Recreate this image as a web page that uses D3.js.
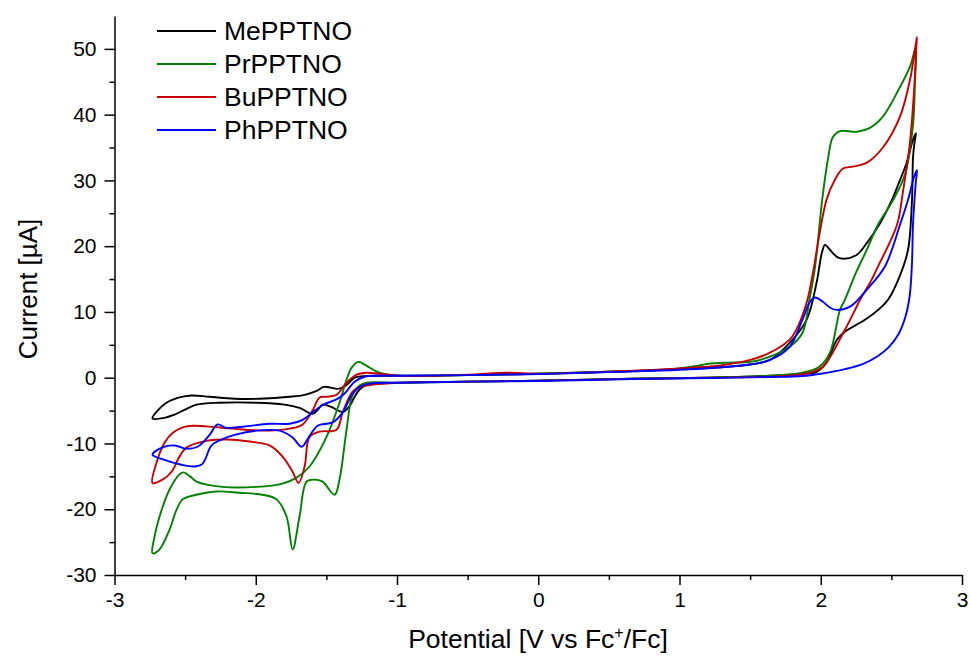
<!DOCTYPE html>
<html lang="en">
<head>
<meta charset="UTF-8">
<title>cyclic voltammograms</title>
<script src="https://d3js.org/d3.v7.min.js"></script>
<style>
  body { margin: 0; background: #fff; }
  .chart text { font-family: "Liberation Sans", Arial, sans-serif; fill: #000; }
  .axis path, .axis line { stroke: #000; stroke-width: 1.5; }
  .axis text { font-size: 21px; }
  .trace { fill: none; stroke-width: 1.9; stroke-linejoin: round; }
</style>
</head>
<body>
<svg class="chart"></svg>
<script>
// [potential (V vs Fc+/Fc), current (µA)] along one full cycle:
// forward sweep from the negative vertex, then the reverse sweep back
const mePPTNO = [
  [-2.731,-6.2],[-2.695,-5.0],[-2.632,-3.8],[-2.540,-3.0],[-2.455,-2.7],[-2.327,-2.9],[-2.150,-3.2],
  [-1.973,-3.2],[-1.761,-2.9],[-1.654,-2.6],[-1.569,-2.0],[-1.519,-1.4],[-1.470,-1.5],[-1.421,-1.7],
  [-1.357,-1.1],[-1.300,0.0],[-1.244,0.23],[-1.123,0.3],[-0.981,0.3],[-0.5,0.4],[0,0.6],[0.5,0.9],
  [1.0,1.3],[1.3,1.6],[1.5,2.0],[1.64,2.7],[1.78,5.3],[1.90,8.8],[1.97,14.4],[2.008,19.0],[2.03,20.2],
  [2.065,19.45],[2.12,18.3],[2.171,18.1],[2.256,18.7],[2.327,20.5],[2.42,23.5],[2.504,27.05],
  [2.547,29.3],[2.61,32.8],[2.653,36.2],[2.674,37.2],
  [2.662,35.5],[2.653,33.4],[2.646,27.05],[2.618,19.45],[2.56,15.5],[2.476,11.85],[2.40,10.2],
  [2.313,8.8],[2.171,7.0],[2.115,5.8],[2.04,2.3],[1.97,0.9],[1.87,0.6],[1.64,0.3],[1.2,0.0],
  [0.67,-0.15],[0,-0.45],[-0.5,-0.6],[-0.981,-0.76],[-1.215,-1.1],[-1.265,-1.8],[-1.300,-2.9],
  [-1.336,-4.3],[-1.385,-5.2],[-1.470,-4.4],[-1.527,-4.1],[-1.562,-4.9],[-1.598,-5.5],[-1.690,-4.6],
  [-1.796,-4.1],[-1.994,-3.8],[-2.256,-3.8],[-2.419,-4.1],[-2.504,-4.9],[-2.575,-5.6],[-2.646,-6.1]
];

const prPPTNO = [
  [-2.731,-26.7],[-2.717,-24.2],[-2.681,-21.1],[-2.610,-17.0],[-2.540,-14.7],[-2.511,-14.4],
  [-2.465,-15.0],[-2.419,-15.8],[-2.235,-16.6],[-1.994,-16.6],[-1.810,-16.1],[-1.711,-15.2],
  [-1.619,-13.5],[-1.499,-9.0],[-1.407,-3.8],[-1.357,-0.3],[-1.322,1.5],[-1.272,2.4],[-1.215,1.8],
  [-1.123,0.76],[-0.981,0.3],[-0.5,0.4],[0,0.6],[0.5,0.9],[0.9,1.2],[1.1,1.7],[1.2,2.1],[1.35,2.3],
  [1.5,2.4],[1.64,3.2],[1.78,4.7],[1.87,6.8],[1.92,11.85],[1.96,16.9],[2.01,27],[2.05,33.1],
  [2.086,36.6],[2.136,37.5],[2.256,37.4],[2.348,38.0],[2.44,39.7],[2.561,44.2],[2.632,47.3],[2.674,50.3],
  [2.667,45],[2.653,38.4],[2.596,30.9],[2.504,26.7],[2.405,23.25],[2.327,19.5],[2.25,16.0],
  [2.171,11.85],[2.136,10.3],[2.065,3.8],[1.99,1.67],[1.87,0.76],[1.64,0.3],[1.2,0],[0.67,-0.15],
  [0,-0.45],[-0.5,-0.6],[-0.981,-0.76],[-1.215,-0.76],[-1.265,-1.2],[-1.315,-2.6],[-1.357,-7.9],
  [-1.407,-15.5],[-1.442,-17.8],[-1.527,-15.8],[-1.583,-15.5],[-1.640,-15.8],[-1.690,-21.1],
  [-1.739,-26.1],[-1.782,-21.1],[-1.853,-18.5],[-1.952,-17.8],[-2.115,-17.5],[-2.278,-17.3],
  [-2.419,-17.8],[-2.518,-18.5],[-2.561,-20.1],[-2.610,-23.1],[-2.681,-26.1]
];

const buPPTNO = [
  [-2.731,-16.0],[-2.702,-12.9],[-2.646,-9.9],[-2.589,-8.4],[-2.490,-7.4],[-2.348,-7.4],[-2.164,-7.75],
  [-1.902,-8.05],[-1.761,-7.75],[-1.668,-7.1],[-1.598,-5.0],[-1.548,-3.0],[-1.499,-2.9],[-1.428,-2.6],
  [-1.357,-0.76],[-1.286,0.46],[-1.215,0.76],[-1.123,0.6],[-0.981,0.3],[-0.5,0.45],[-0.22,0.75],
  [0,0.6],[0.5,0.9],[1.0,1.4],[1.3,1.9],[1.5,2.7],[1.64,3.8],[1.78,5.8],[1.82,7.0],[1.90,11.4],
  [1.94,15.4],[2.04,27],[2.10,30.1],[2.157,31.8],[2.228,32.1],[2.327,32.7],[2.44,35.0],[2.561,39.7],
  [2.632,45.3],[2.667,49.9],[2.681,51.8],
  [2.674,49.5],[2.667,46],[2.632,35.9],[2.582,28.3],[2.540,23.25],[2.405,16.9],[2.348,14.4],
  [2.29,12.3],[2.171,7.3],[2.015,1.67],[1.92,0.76],[1.78,0.3],[1.2,0],[0.67,-0.15],[0,-0.45],
  [-0.5,-0.6],[-0.981,-0.76],[-1.194,-1.1],[-1.265,-1.4],[-1.315,-2.1],[-1.385,-5.3],[-1.428,-7.9],
  [-1.548,-8.2],[-1.619,-9.0],[-1.654,-13.5],[-1.697,-16.0],[-1.739,-14.3],[-1.810,-12.0],
  [-1.902,-10.3],[-2.044,-9.7],[-2.207,-9.4],[-2.348,-9.6],[-2.490,-10.6],[-2.540,-12.0],
  [-2.596,-14.3],[-2.660,-15.5]
];

const phPPTNO = [
  [-2.731,-11.7],[-2.660,-10.6],[-2.575,-10.3],[-2.490,-10.8],[-2.412,-10.5],[-2.327,-8.7],
  [-2.270,-7.1],[-2.214,-7.6],[-2.093,-7.45],[-1.902,-7.0],[-1.761,-7.0],[-1.668,-6.4],[-1.583,-5.0],
  [-1.512,-4.0],[-1.428,-3.3],[-1.371,-2.4],[-1.300,-0.6],[-1.230,0.15],[-1.123,0.3],[-0.981,0.3],
  [-0.5,0.4],[0,0.55],[0.5,0.85],[1.0,1.2],[1.3,1.6],[1.5,2.0],[1.64,2.7],[1.78,4.7],[1.87,8.8],
  [1.92,11.4],[1.96,12.2],[2.015,11.55],[2.07,10.6],[2.12,10.3],[2.207,10.8],[2.327,13.4],
  [2.454,16.9],[2.561,23.25],[2.618,27.05],[2.66,30.5],[2.681,31.6],
  [2.672,29.5],[2.653,23.25],[2.646,17.5],[2.63,12.5],[2.60,9.3],[2.55,6.6],[2.48,4.6],[2.405,3.3],
  [2.30,2.1],[2.171,1.3],[2.0,0.6],[1.87,0.25],[1.64,0.1],[1.2,-0.05],[0.67,-0.2],[0,-0.5],[-0.5,-0.6],
  [-0.981,-0.76],[-1.194,-0.9],[-1.265,-1.4],[-1.322,-2.7],[-1.385,-5.3],[-1.456,-6.8],[-1.562,-7.3],
  [-1.626,-9.1],[-1.675,-10.5],[-1.739,-9.1],[-1.831,-8.05],[-1.994,-8.05],[-2.150,-8.7],
  [-2.242,-9.4],[-2.313,-10.3],[-2.377,-13.1],[-2.433,-13.5],[-2.533,-13.2],[-2.646,-12.5]
];

const seriesNames = ['MePPTNO', 'PrPPTNO', 'BuPPTNO', 'PhPPTNO'];
const seriesData = [mePPTNO, prPPTNO, buPPTNO, phPPTNO];
const seriesColors = ['#000000', '#008000', '#c80000', '#0000ff'];

const xTicks = [-3, -2, -1, 0, 1, 2, 3];
const xMinorTicks = [-2.5, -1.5, -0.5, 0.5, 1.5, 2.5];
const yTicks = [-30, -20, -10, 0, 10, 20, 30, 40, 50];
const yMinorTicks = [-25, -15, -5, 5, 15, 25, 35, 45];

const W = 970, H = 659;
const svg = d3.select('.chart').attr('width', W).attr('height', H);

const x = d3.scaleLinear().domain([-3, 3]).range([114.5, 962]);
const y = d3.scaleLinear().domain([-30, 55]).range([575, 16]);

const line = d3.line()
  .x(d => x(d[0]))
  .y(d => y(d[1]))
  .curve(d3.curveCatmullRomClosed.alpha(0.5));

svg.selectAll('.trace')
  .data(seriesData).enter()
  .append('path')
  .attr('class', 'trace')
  .attr('stroke', (d, i) => seriesColors[i])
  .attr('d', line);

// axes (plain hyphen for negative labels, like the original)
const plain = d => String(d);

svg.append('g')
  .attr('class', 'axis')
  .attr('transform', 'translate(0,' + y(-30) + ')')
  .call(d3.axisBottom(x).tickValues(xTicks).tickSize(10).tickPadding(7).tickSizeOuter(0).tickFormat(plain));
svg.append('g')
  .attr('class', 'axis')
  .attr('transform', 'translate(0,' + y(-30) + ')')
  .call(d3.axisBottom(x).tickValues(xMinorTicks).tickSize(5).tickSizeOuter(0).tickFormat(''))
  .select('.domain').remove();

svg.append('g')
  .attr('class', 'axis')
  .attr('transform', 'translate(' + x(-3) + ',0)')
  .call(d3.axisLeft(y).tickValues(yTicks).tickSize(10).tickPadding(8).tickSizeOuter(0).tickFormat(plain));
svg.append('g')
  .attr('class', 'axis')
  .attr('transform', 'translate(' + x(-3) + ',0)')
  .call(d3.axisLeft(y).tickValues(yMinorTicks).tickSize(5).tickSizeOuter(0).tickFormat(''))
  .select('.domain').remove();

svg.selectAll('.axis text').attr('font-family', null);

// axis titles
svg.append('text')
  .attr('transform', 'translate(37,289) rotate(-90)')
  .attr('text-anchor', 'middle')
  .style('font-size', '26px')
  .text('Current [µA]');

const xt = svg.append('text')
  .attr('x', 538)
  .attr('y', 648)
  .attr('text-anchor', 'middle')
  .style('font-size', '26.5px');
xt.append('tspan').text('Potential [V vs Fc');
xt.append('tspan').attr('dy', -10).style('font-size', '16px').text('+');
xt.append('tspan').attr('dy', 10).text('/Fc]');

// legend
const legend = svg.append('g');
seriesNames.forEach((name, i) => {
  const ly = 31 + i * 33;
  legend.append('line')
    .attr('x1', 157).attr('x2', 216)
    .attr('y1', ly).attr('y2', ly)
    .attr('stroke', seriesColors[i])
    .attr('stroke-width', 1.9);
  legend.append('text')
    .attr('x', 224).attr('y', ly)
    .attr('dy', '0.35em')
    .style('font-size', '26.5px')
    .text(name);
});
</script>
</body>
</html>
